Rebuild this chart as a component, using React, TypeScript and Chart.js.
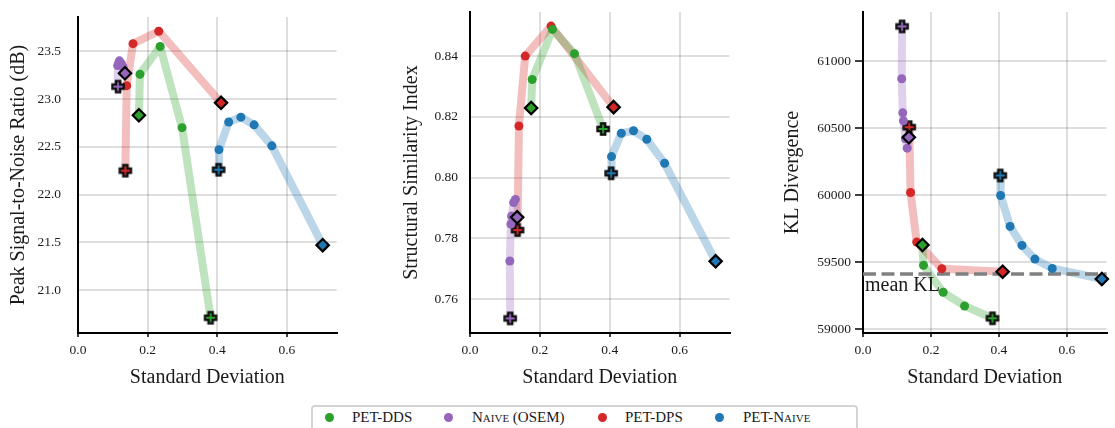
import React, { useEffect, useRef } from 'react';
import { Chart, registerables } from 'chart.js';

Chart.register(...registerables);

// ---------- data ----------
const xTicks = [0, 0.2, 0.4, 0.6];
const psnrTicks = [21.0, 21.5, 22.0, 22.5, 23.0, 23.5];
const ssimTicks = [0.76, 0.78, 0.8, 0.82, 0.84];
const klTicks = [59000, 59500, 60000, 60500, 61000];
const meanKl = 59410;

// PET-DDS
const ddsStd = [0.175, 0.178, 0.236, 0.299, 0.381];
const ddsPsnr = [22.83, 23.26, 23.55, 22.7, 20.71];
const ddsSsim = [0.8229, 0.8323, 0.8488, 0.8408, 0.816];
const ddsKl = [59627, 59475, 59274, 59172, 59080];
const ddsMarks = ['diamond', 'dot', 'dot', 'dot', 'plus'];

// Naive (OSEM)
const naiveStd = [0.115, 0.114, 0.117, 0.119, 0.125, 0.13, 0.135];
const naivePsnr = [23.13, 23.35, 23.38, 23.4, 23.37, 23.33, 23.27];
const naiveSsim = [0.7536, 0.7725, 0.7847, 0.7873, 0.7918, 0.7928, 0.7869];
const naiveKl = [61259, 60868, 60614, 60554, 60420, 60350, 60431];
const naiveMarks = ['plus', 'dot', 'dot', 'dot', 'dot', 'dot', 'diamond'];

// PET-DPS
const dpsStd = [0.136, 0.14, 0.158, 0.232, 0.411];
const dpsPsnr = [22.25, 23.14, 23.58, 23.71, 22.96];
const dpsSsim = [0.7827, 0.817, 0.84, 0.8499, 0.8232];
const dpsKl = [60507, 60019, 59649, 59450, 59428];
const dpsMarks = ['plus', 'dot', 'dot', 'dot', 'diamond'];

// PET-Naive
const pnStd = [0.404, 0.405, 0.433, 0.468, 0.506, 0.557, 0.703];
const pnPsnr = [22.26, 22.47, 22.76, 22.81, 22.73, 22.51, 21.47];
const pnSsim = [0.8014, 0.8069, 0.8146, 0.8154, 0.8126, 0.8047, 0.7724];
const pnKl = [60146, 59997, 59766, 59624, 59522, 59452, 59373];
const pnMarks = ['plus', 'dot', 'dot', 'dot', 'dot', 'dot', 'diamond'];

const seriesNames = ['PET-DDS', 'Naive (OSEM)', 'PET-DPS', 'PET-Naive'];
const seriesColors = ['#2ca02c', '#9467bd', '#d62728', '#1f77b4'];
const seriesLineColors = [
  'rgba(44,160,44,0.3)',
  'rgba(148,103,189,0.3)',
  'rgba(214,39,40,0.3)',
  'rgba(31,119,180,0.3)',
];

const series = [
  { std: ddsStd, psnr: ddsPsnr, ssim: ddsSsim, kl: ddsKl, marks: ddsMarks },
  { std: naiveStd, psnr: naivePsnr, ssim: naiveSsim, kl: naiveKl, marks: naiveMarks },
  { std: dpsStd, psnr: dpsPsnr, ssim: dpsSsim, kl: dpsKl, marks: dpsMarks },
  { std: pnStd, psnr: pnPsnr, ssim: pnSsim, kl: pnKl, marks: pnMarks },
];

const FONT = "'Liberation Serif', 'Times New Roman', serif";
const TEXT = '#1a1a1a';
const GRID = 'rgba(0,0,0,0.13)';

function makePlus(color: string): HTMLCanvasElement {
  const c = document.createElement('canvas');
  const s = 16;
  c.width = s;
  c.height = s;
  const g = c.getContext('2d')!;
  const m = s / 2;
  const a = 3.3;
  const L = 6.8;
  g.fillStyle = '#111';
  g.fillRect(m - a, m - L, 2 * a, 2 * L);
  g.fillRect(m - L, m - a, 2 * L, 2 * a);
  g.strokeStyle = color;
  g.lineWidth = 1.8;
  g.beginPath();
  g.moveTo(m - 4.5, m);
  g.lineTo(m + 4.5, m);
  g.moveTo(m, m - 4.5);
  g.lineTo(m, m + 4.5);
  g.stroke();
  return c;
}

type PanelProps = {
  left: number;
  width: number;
  yWidth: number;
  rightPad: number;
  yTitle: string;
  yTickPad: number;
  yTickColor: string;
  yTicks: number[];
  yMin: number;
  yMax: number;
  xMax: number;
  metric: 'psnr' | 'ssim' | 'kl';
  fmt: (v: number) => string;
  mean?: number;
};

const H = 400;

function Panel(p: PanelProps) {
  const ref = useRef<HTMLCanvasElement | null>(null);
  useEffect(() => {
    const canvas = ref.current!;
    const datasets: any[] = [];
    series.forEach((s, k) => {
      const pts = s.std.map((x, i) => ({ x, y: (s as any)[p.metric][i] }));
      datasets.push({
        data: pts,
        showLine: true,
        borderColor: seriesLineColors[k],
        borderWidth: 8,
        borderCapStyle: 'round',
        borderJoinStyle: 'round',
        pointRadius: 0,
        tension: 0,
        clip: false,
        order: 5,
      });
    });
    if (p.mean !== undefined) {
      datasets.push({
        data: [
          { x: 0, y: p.mean },
          { x: p.xMax, y: p.mean },
        ],
        showLine: true,
        borderColor: '#808080',
        borderWidth: 3.5,
        borderDash: [13, 5.5],
        pointRadius: 0,
        clip: false,
        order: 3,
      });
    }
    series.forEach((s, k) => {
      const pts = s.std.map((x, i) => ({ x, y: (s as any)[p.metric][i] }));
      const plus = makePlus(seriesColors[k]);
      datasets.push({
        data: pts,
        showLine: false,
        pointStyle: s.marks.map((m) => (m === 'dot' ? 'circle' : m === 'diamond' ? 'rectRot' : plus)),
        pointRadius: s.marks.map((m) => (m === 'dot' ? 4.5 : m === 'diamond' ? 6.2 : 7)),
        pointBackgroundColor: seriesColors[k],
        pointBorderColor: s.marks.map((m) => (m === 'diamond' ? '#000' : seriesColors[k])),
        pointBorderWidth: s.marks.map((m) => (m === 'diamond' ? 2.2 : 0)),
        clip: false,
        order: 1,
      });
    });

    const meanLabel = {
      id: 'meanLabel',
      afterDatasetsDraw(chart: any) {
        if (p.mean === undefined) return;
        const { ctx, chartArea, scales } = chart;
        const y = scales.y.getPixelForValue(p.mean);
        ctx.save();
        ctx.font = `20px ${FONT}`;
        ctx.fillStyle = TEXT;
        ctx.textAlign = 'left';
        ctx.textBaseline = 'alphabetic';
        ctx.fillText('mean KL', chartArea.left + 2, y + 17);
        ctx.restore();
      },
    };

    const chart = new Chart(canvas, {
      type: 'scatter',
      data: { datasets },
      plugins: [meanLabel],
      options: {
        animation: false,
        responsive: false,
        maintainAspectRatio: false,
        devicePixelRatio: 1,
        events: [],
        layout: { padding: { left: 0, top: 12, right: p.rightPad, bottom: 0 } },
        plugins: { legend: { display: false }, tooltip: { enabled: false } },
        scales: {
          x: {
            type: 'linear',
            min: 0,
            max: p.xMax,
            afterBuildTicks: (s: any) => {
              s.ticks = xTicks.map((v) => ({ value: v }));
            },
            afterFit: (s: any) => {
              s.height = H - 333;
            },
            grid: {
              color: GRID,
              lineWidth: 2,
              drawTicks: true,
              tickLength: 4,
              tickColor: '#000',
              tickWidth: 1.5,
            },
            border: { display: true, color: '#000', width: 2 },
            ticks: {
              font: { family: FONT, size: 13.5 },
              color: TEXT,
              padding: 5,
              maxRotation: 0,
              callback: (v: any) => Number(v).toFixed(1),
            },
            title: {
              display: true,
              text: 'Standard Deviation',
              font: { family: FONT, size: 20 },
              color: TEXT,
              padding: { top: 0, bottom: 10 },
            },
          },
          y: {
            type: 'linear',
            min: p.yMin,
            max: p.yMax,
            afterBuildTicks: (s: any) => {
              s.ticks = p.yTicks.map((v) => ({ value: v }));
            },
            afterFit: (s: any) => {
              s.width = p.yWidth;
            },
            grid: {
              color: GRID,
              lineWidth: 2,
              drawTicks: true,
              tickLength: 8,
              tickColor: p.yTickColor,
              tickWidth: 1.5,
            },
            border: { display: true, color: '#000', width: 2 },
            ticks: {
              font: { family: FONT, size: 13.5 },
              color: TEXT,
              padding: p.yTickPad,
              callback: (v: any) => p.fmt(Number(v)),
            },
            title: {
              display: true,
              text: p.yTitle,
              font: { family: FONT, size: 20 },
              color: TEXT,
              padding: { top: 7, bottom: 0 },
            },
          },
        },
      } as any,
    });
    return () => chart.destroy();
  }, []);
  return (
    <canvas
      ref={ref}
      width={p.width}
      height={H}
      style={{ position: 'absolute', left: p.left, top: 0, width: p.width, height: H }}
    />
  );
}

function Legend() {
  const dotX = [329, 448, 602, 719];
  const textX = [352, 472, 625, 743];
  return (
    <div
      style={{
        position: 'absolute',
        left: 311,
        top: 405,
        width: 547,
        height: 40,
        border: '2px solid #d4d4d4',
        borderRadius: 4,
        boxSizing: 'border-box',
        background: '#fff',
      }}
    >
      {seriesNames.map((n, i) => (
        <React.Fragment key={n}>
          <div
            style={{
              position: 'absolute',
              left: dotX[i] - 311 - 2 - 4.5,
              top: 417 - 405 - 2 - 4.5,
              width: 9,
              height: 9,
              borderRadius: '50%',
              background: seriesColors[i],
            }}
          />
          <div
            style={{
              position: 'absolute',
              left: textX[i] - 311 - 2,
              top: 417 - 405 - 2 - 9,
              height: 18,
              lineHeight: '18px',
              fontFamily: FONT,
              fontSize: 15,
              color: TEXT,
              whiteSpace: 'nowrap',
              fontVariant: n.includes('Naive') ? 'small-caps' : 'normal',
            }}
          >
            {n}
          </div>
        </React.Fragment>
      ))}
    </div>
  );
}

export default function App() {
  return (
    <div
      style={{
        position: 'absolute',
        left: 0,
        top: 0,
        width: 1115,
        height: 428,
        overflow: 'hidden',
        background: '#fff',
      }}
    >
      <Panel
        left={0}
        width={345}
        yWidth={78}
        rightPad={7}
        yTitle="Peak Signal-to-Noise Ratio (dB)"
        yTickPad={9}
        yTickColor="rgba(0,0,0,0)"
        yTicks={psnrTicks}
        yMin={20.55}
        yMax={23.858}
        xMax={0.743}
        metric="psnr"
        fmt={(v) => v.toFixed(1)}
      />
      <Panel
        left={393}
        width={345}
        yWidth={77}
        rightPad={7}
        yTitle="Structural Similarity Index"
        yTickPad={4}
        yTickColor="rgba(0,0,0,0)"
        yTicks={ssimTicks}
        yMin={0.7488}
        yMax={0.8545}
        xMax={0.743}
        metric="ssim"
        fmt={(v) => v.toFixed(2)}
      />
      <Panel
        left={774}
        width={341}
        yWidth={89}
        rightPad={0}
        yTitle="KL Divergence"
        yTickPad={4}
        yTickColor="#000"
        yTicks={klTicks}
        yMin={58970}
        yMax={61366}
        xMax={0.717}
        metric="kl"
        fmt={(v) => String(Math.round(v))}
        mean={meanKl}
      />
      <Legend />
    </div>
  );
}
